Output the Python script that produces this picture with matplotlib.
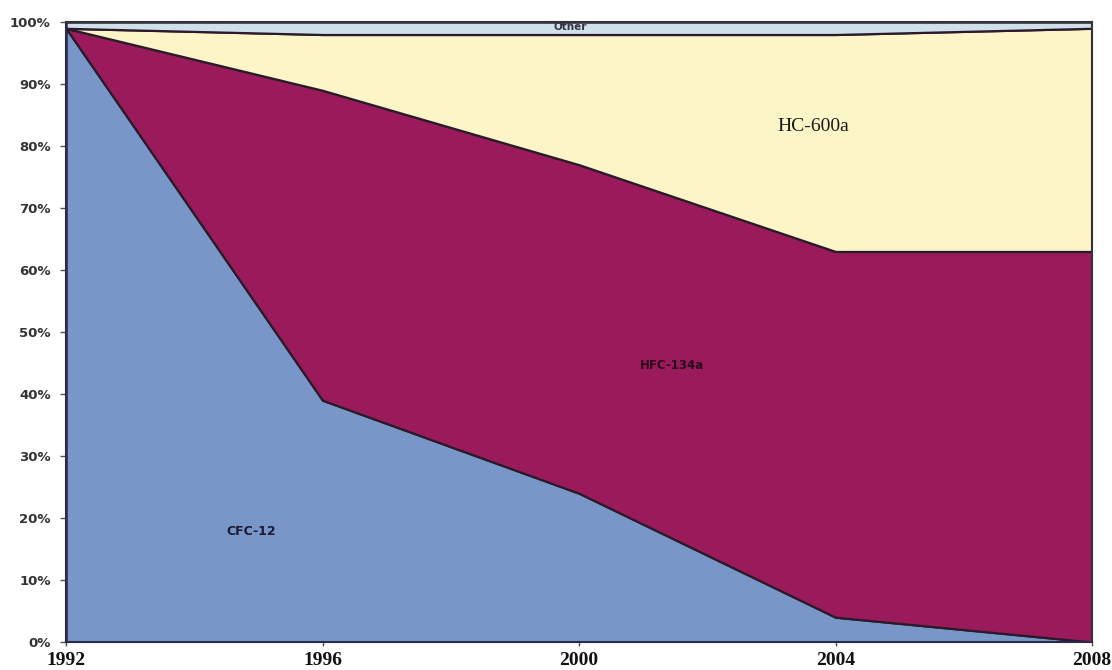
import matplotlib.pyplot as plt
from matplotlib.ticker import PercentFormatter

years = [1992, 1996, 2000, 2004, 2008]
cfc_12 = [99, 39, 24, 4, 0]
hfc_134a = [0, 50, 53, 59, 63]
hc_600a = [0, 9, 21, 35, 36]
other = [1, 2, 2, 2, 1]

colors = ["#7896c8", "#9a1a5c", "#fbf5c8", "#cfe0ea"]

fig = plt.figure(figsize=(11.12, 6.70), dpi=100)
ax = fig.add_axes([0.0594, 0.0418, 0.9226, 0.9252])

ax.stackplot(years, cfc_12, hfc_134a, hc_600a, other,
             colors=colors, edgecolor="#2a1a2a", linewidth=1.6)

ax.set_xlim(1992, 2008)
ax.set_ylim(0, 100)
ax.set_xticks(years)
ax.set_yticks(range(0, 101, 10))
ax.yaxis.set_major_formatter(PercentFormatter(decimals=0))

ax.tick_params(axis="y", labelsize=9.5, length=4, width=1, color="#555555", pad=7)
ax.tick_params(axis="x", length=3, width=1, color="#555555", pad=4)
for lbl in ax.get_yticklabels():
    lbl.set_fontweight("bold")
    lbl.set_color("#333333")
for lbl in ax.get_xticklabels():
    lbl.set_fontfamily("Liberation Serif")
    lbl.set_fontweight("bold")
    lbl.set_fontsize(14)
    lbl.set_color("#111111")

for side in ["left", "bottom"]:
    ax.spines[side].set_color("#2a2a4a")
    ax.spines[side].set_linewidth(1.5)
for side in ["top", "right"]:
    ax.spines[side].set_color("#333333")
    ax.spines[side].set_linewidth(1.5)

# series names placed inside their own bands
ax.text(1994.5, 17.3, "CFC-12", fontsize=9, fontweight="bold", color="#1a1a33")
ax.text(2000.95, 44.0, "HFC-134a", fontsize=8.5, fontweight="bold", color="#2a0a1a")
ax.text(2003.1, 82.5, "HC-600a", fontsize=14, family="Liberation Serif", color="#1a1a1a")
ax.text(1999.6, 99.2, "Other", fontsize=7.5, fontweight="bold", color="#333344", va="center")

fig.savefig("out.png", dpi=100)
